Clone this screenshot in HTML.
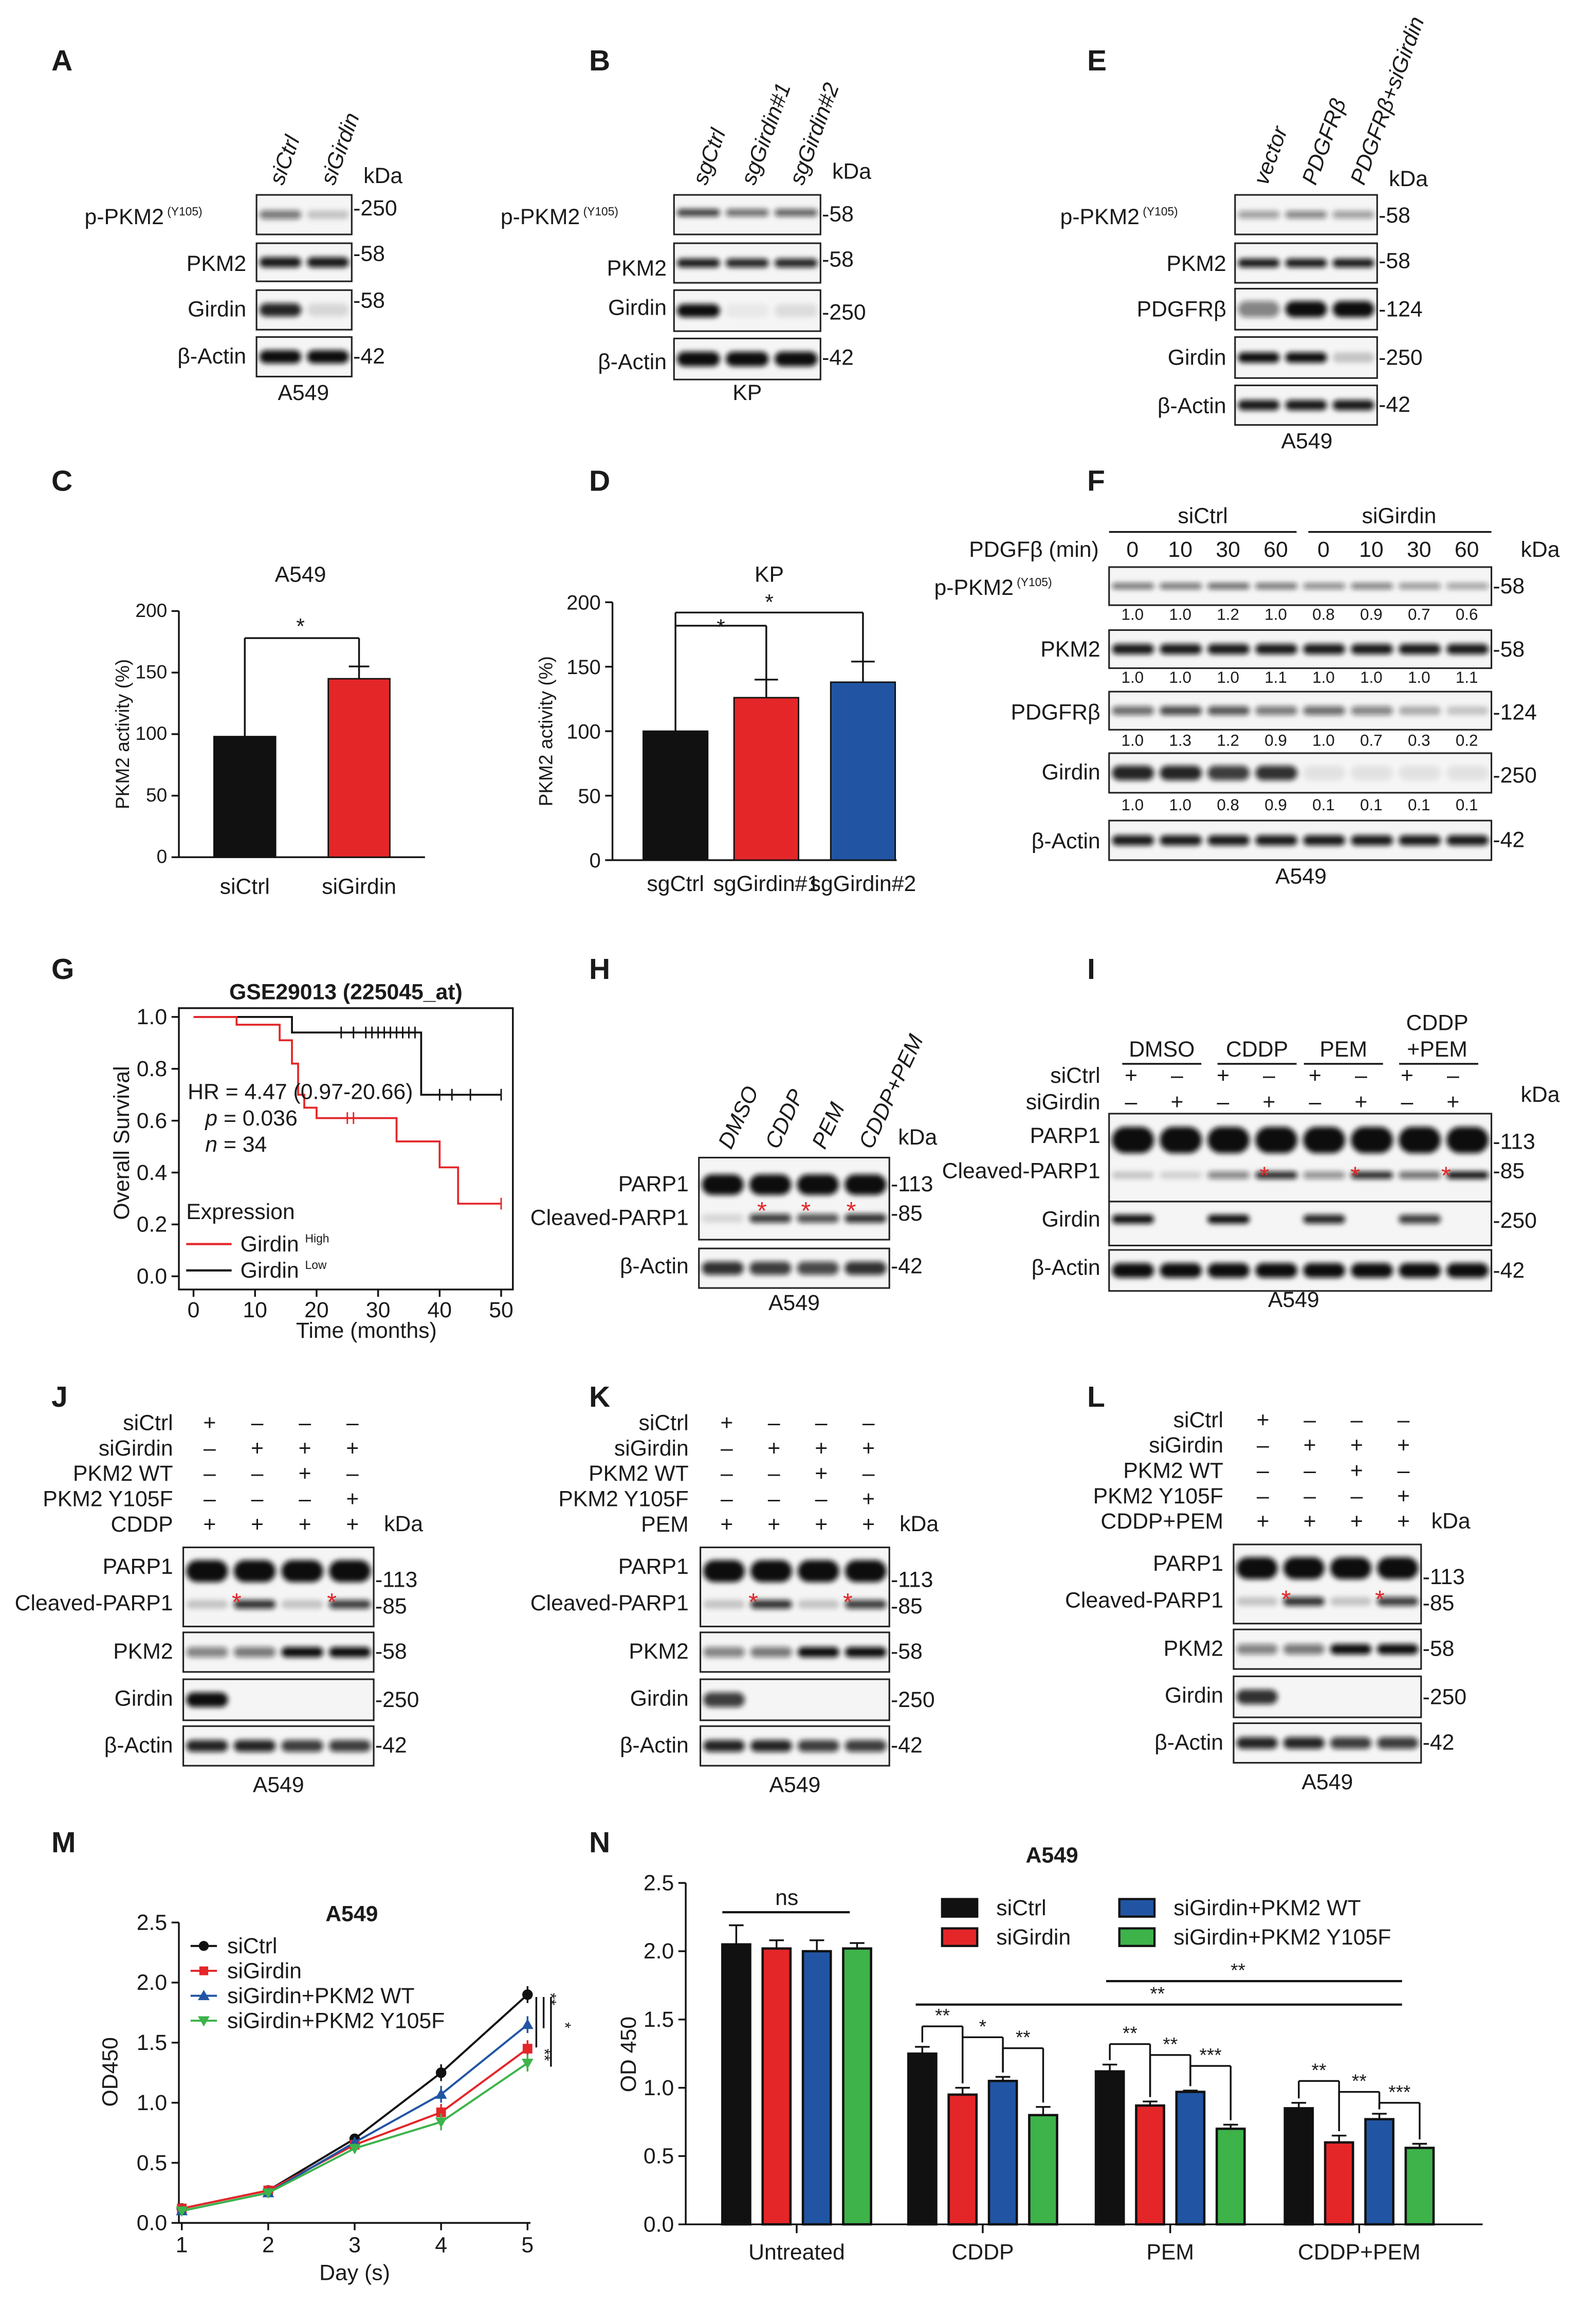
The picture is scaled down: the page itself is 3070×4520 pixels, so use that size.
<!DOCTYPE html>
<html><head><meta charset="utf-8"><style>
html,body{margin:0;padding:0;background:#fff}
svg{display:block}
text{font-family:"Liberation Sans",sans-serif}
</style></head><body>
<svg id="fig" width="3070" height="4520" viewBox="0 0 1077 1586" xmlns="http://www.w3.org/2000/svg">
<defs><filter id="blur" x="-20%" y="-100%" width="140%" height="300%"><feGaussianBlur stdDeviation="1.8"/></filter></defs>
</svg>
<script>
// ---------- chart data ----------
const cCats=["siCtrl","siGirdin"];
const cVals=[98,145];
const cErr=[0,10];
const dCats=["sgCtrl","sgGirdin#1","sgGirdin#2"];
const dVals=[100,126,138];
const dErr=[0,14,16];
const activityTicks=[0,50,100,150,200];
const kmHighSteps=[[0,1],[7,0.97],[14,0.91],[16,0.82],[17,0.70],[18,0.65],[20,0.61],[33,0.52],[40,0.42],[43,0.28],[50,0.28]];
const kmLowSteps=[[0,1],[16,0.94],[37,0.70],[50,0.70]];
const kmLowCensor=[24,26,28,29,30,31,32,33,34,35,36,40,42,45,50];
const kmHighCensor=[25,26,50];
const kmXTicks=[0,10,20,30,40,50];
const kmYTicks=[0,0.2,0.4,0.6,0.8,1.0];
const mDays=[1,2,3,4,5];
const mSiCtrl=[0.12,0.27,0.70,1.25,1.90];
const mSiGirdin=[0.12,0.27,0.65,0.92,1.45];
const mWT=[0.10,0.25,0.67,1.07,1.65];
const mY105F=[0.10,0.25,0.62,0.84,1.33];
const mErr=[0.03,0.03,0.04,0.07,0.07];
const odTicks=[0,0.5,1.0,1.5,2.0,2.5];
const nGroups=["Untreated","CDDP","PEM","CDDP+PEM"];
const nSiCtrl=[2.05,1.25,1.12,0.85];
const nSiGirdin=[2.02,0.95,0.87,0.60];
const nWT=[2.00,1.05,0.97,0.77];
const nY105F=[2.02,0.80,0.70,0.56];
const nErrCtrl=[0.14,0.05,0.05,0.04];
const nErrGir=[0.06,0.05,0.03,0.05];
const nErrWT=[0.08,0.03,0.01,0.04];
const nErrY=[0.04,0.06,0.03,0.03];
const seriesNames=["siCtrl","siGirdin","siGirdin+PKM2 WT","siGirdin+PKM2 Y105F"];

const RED="#e42629",BLUE="#2155a3",GREEN="#3db34a",BLK="#111";
const svg=document.getElementById('fig');
const NS="http://www.w3.org/2000/svg";
function mk(tag,name,attrs,parent){
  const e=document.createElementNS(NS,tag);
  
  
  for(const k in attrs)e.setAttribute(k,attrs[k]);
  (parent||svg).appendChild(e);return e;
}
function T(x,y,s,name,o){o=o||{};
  const e=mk('text',name,{x:x,y:y,'font-size':o.fs||15,'text-anchor':o.a||'start','font-weight':o.b?'bold':'normal',fill:o.fill||'#1a1a1a'},o.p);
  if(o.rot)e.setAttribute('transform','rotate('+o.rot+' '+x+' '+y+')');
  if(o.it)e.setAttribute('font-style','italic');
  e.textContent=s;return e;}
function L(x1,y1,x2,y2,name,o){o=o||{};return mk('line',name,{x1:x1,y1:y1,x2:x2,y2:y2,stroke:o.c||'#111','stroke-width':o.w||1.2},o.p);}
function R(x,y,w,h,name,o){o=o||{};return mk('rect',name,{x:x,y:y,width:w,height:h,fill:o.f||'none',stroke:o.s||'none','stroke-width':o.w||1},o.p);}

// panel letters
[["A",35,48],["B",402,48],["E",742,48],["C",35,335],["D",402,335],["F",742,335],["G",35,668],["H",402,668],["I",742,668],["J",35,960],["K",402,960],["L",742,960],["M",35,1264],["N",402,1264]].forEach(p=>T(p[1],p[2],p[0],'panel-label-'+p[0].toLowerCase(),{fs:20,b:true}));

// ---------- blots ----------
function blot(name,x,y,w,h,bands){
  const g=mk('g',name,{});
  R(x,y,w,h,name+'-bg',{f:'#f5f5f5',p:g});
  bands.forEach(b=>{const n=b[2].length,lw=w/n;
    b[2].forEach((v,i)=>{if(v<=0.02)return;
      mk('rect',name+'-band',{x:x+lw*i+lw*0.06,y:y+h*b[0]-b[1]/2,width:lw*0.88,height:b[1],rx:b[1]/2,fill:'#111','fill-opacity':v,filter:'url(#blur)'},g);});});
  R(x,y,w,h,name+'-frame',{s:'#222',w:1.1,p:g});
  return g;}
function lab(x,y,s,name,sup){const e=T(x,y,s,name,{a:'end'});if(sup){const ts=document.createElementNS(NS,'tspan');ts.setAttribute('font-size','8');ts.setAttribute('dy','-6');ts.textContent=' (Y105)';e.appendChild(ts);}return e;}
function mark(x,y,s){T(x,y,'-'+s,'kda-marker-'+s);}
function star(x,y){T(x,y,'*','cleavage-asterisk',{fill:RED,fs:17,a:'middle'});}

// A
blot('blot-a-ppkm2',175,133,65,27,[[0.5,6,[0.55,0.2]]]);
blot('blot-a-pkm2',175,166,65,26,[[0.5,7,[0.95,0.95]]]);
blot('blot-a-girdin',175,198,65,27,[[0.5,9,[0.9,0.12]]]);
blot('blot-a-actin',175,230,65,27,[[0.5,9,[1,1]]]);
lab(138,153,'p-PKM2','label-ppkm2',true);lab(168,185,'PKM2','label-pkm2');lab(168,216,'Girdin','label-girdin');lab(168,248,'β-Actin','label-actin');
mark(241,147,'250');mark(241,178,'58');mark(241,210,'58');mark(241,248,'42');
T(248,125,'kDa','kda-a');T(207,273,'A549','cell-a549',{a:'middle'});
T(193,127,'siCtrl','lane-sictrl',{rot:-70,it:true});T(228,127,'siGirdin','lane-sigirdin',{rot:-70,it:true});
// B
blot('blot-b-ppkm2',460,133,100,27,[[0.45,5,[0.8,0.6,0.65]]]);
blot('blot-b-pkm2',460,166,100,27,[[0.5,6,[0.95,0.9,0.9]]]);
blot('blot-b-girdin',460,198,100,28,[[0.5,9,[1,0.05,0.1]]]);
blot('blot-b-actin',460,231,100,28,[[0.5,10,[1,1,1]]]);
lab(422,153,'p-PKM2','label-ppkm2',true);lab(455,188,'PKM2','label-pkm2');lab(455,215,'Girdin','label-girdin');lab(455,252,'β-Actin','label-actin');
mark(561,151,'58');mark(561,182,'58');mark(561,218,'250');mark(561,249,'42');
T(568,122,'kDa','kda-b');T(510,273,'KP','cell-kp',{a:'middle'});
['sgCtrl','sgGirdin#1','sgGirdin#2'].forEach((s,i)=>T(482+i*33,127,s,'lane-'+s,{rot:-70,it:true}));
// E
blot('blot-e-ppkm2',843,133,97,27,[[0.5,5,[0.4,0.5,0.4]]]);
blot('blot-e-pkm2',843,166,97,27,[[0.5,6,[0.95,0.95,0.95]]]);
blot('blot-e-pdgfrb',843,197,97,28,[[0.5,11,[0.5,1,1]]]);
blot('blot-e-girdin',843,230,97,28,[[0.5,7,[1,1,0.2]]]);
blot('blot-e-actin',843,263,97,27,[[0.5,7,[0.95,0.95,0.95]]]);
lab(804,153,'p-PKM2','label-ppkm2',true);lab(837,185,'PKM2','label-pkm2');lab(837,216,'PDGFRβ','label-pdgfrb');lab(837,249,'Girdin','label-girdin');lab(837,282,'β-Actin','label-actin');
mark(941,152,'58');mark(941,183,'58');mark(941,216,'124');mark(941,249,'250');mark(941,281,'42');
T(948,127,'kDa','kda-e');T(892,306,'A549','cell-a549',{a:'middle'});
['vector','PDGFRβ','PDGFRβ+siGirdin'].forEach((s,i)=>T(865+i*33,127,s,'lane-'+s,{rot:-70,it:true}));
// F
T(821,357,'siCtrl','group-sictrl',{a:'middle'});L(757,363,885,363,'group-line');
T(955,357,'siGirdin','group-sigirdin',{a:'middle'});L(893,363,1018,363,'group-line');
T(750,380,'PDGFβ (min)','label-pdgfb-min',{a:'end'});
[0,10,30,60,0,10,30,60].forEach((v,i)=>T(773+i*32.6,380,String(v),'time-'+v,{a:'middle'}));
T(1038,380,'kDa','kda-f');
blot('blot-f-ppkm2',757,387,261,26,[[0.5,4,[0.6,0.6,0.65,0.6,0.5,0.55,0.45,0.4]]]);
blot('blot-f-pkm2',757,430,261,26,[[0.5,7,[0.95,0.95,0.95,0.95,0.95,0.95,0.95,0.95]]]);
blot('blot-f-pdgfrb',757,472,261,26,[[0.5,6,[0.6,0.75,0.7,0.55,0.6,0.5,0.3,0.2]]]);
blot('blot-f-girdin',757,514,261,27,[[0.5,10,[0.9,0.9,0.8,0.85,0.08,0.08,0.08,0.08]]]);
blot('blot-f-actin',757,560,261,27,[[0.5,7,[0.95,0.95,0.95,0.95,0.95,0.95,0.95,0.95]]]);
lab(718,406,'p-PKM2','label-ppkm2',true);lab(751,448,'PKM2','label-pkm2');lab(751,491,'PDGFRβ','label-pdgfrb');lab(751,532,'Girdin','label-girdin');lab(751,579,'β-Actin','label-actin');
mark(1019,405,'58');mark(1019,448,'58');mark(1019,491,'124');mark(1019,534,'250');mark(1019,578,'42');
[[423,['1.0','1.0','1.2','1.0','0.8','0.9','0.7','0.6']],[466,['1.0','1.0','1.0','1.1','1.0','1.0','1.0','1.1']],[509,['1.0','1.3','1.2','0.9','1.0','0.7','0.3','0.2']],[553,['1.0','1.0','0.8','0.9','0.1','0.1','0.1','0.1']]].forEach(r=>r[1].forEach((v,i)=>T(773+i*32.6,r[0],v,'quant-value',{a:'middle',fs:11})));
T(888,603,'A549','cell-a549',{a:'middle'});
// H
blot('blot-h-parp1',477,790,130,56,[[0.33,14,[1,1,1,1]],[0.74,6,[0.12,0.8,0.7,0.85]]]);
blot('blot-h-actin',477,852,130,27,[[0.5,9,[0.85,0.8,0.75,0.85]]]);
lab(470,813,'PARP1','label-parp1');lab(470,836,'Cleaved-PARP1','label-cleaved-parp1');lab(470,869,'β-Actin','label-actin');
mark(608,813,'113');mark(608,833,'85');mark(608,869,'42');T(613,781,'kDa','kda-h');T(542,894,'A549','cell-a549',{a:'middle'});
['DMSO','CDDP','PEM','CDDP+PEM'].forEach((s,i)=>T(499+i*32,785,s,'lane-'+s,{rot:-65,it:true}));
[520,550,581].forEach(x=>star(x,832));
// I
[['DMSO',793],['CDDP',858],['PEM',917]].forEach(g=>{T(g[1],721,g[0],'group-'+g[0].toLowerCase(),{a:'middle'});L(g[1]-27,726,g[1]+27,726,'group-line');});
T(981,703,'CDDP','group-cddp-pem',{a:'middle'});T(981,721,'+PEM','group-cddp-pem',{a:'middle'});L(955,726,1009,726,'group-line');
T(751,739,'siCtrl','row-sictrl',{a:'end'});T(751,757,'siGirdin','row-sigirdin',{a:'end'});
for(let i=0;i<8;i++){T(772+i*31.4,739,i%2?'–':'+','sign',{a:'middle'});T(772+i*31.4,757,i%2?'+':'–','sign',{a:'middle'});}
T(1038,752,'kDa','kda-i');
blot('blot-i-parp1',757,760,261,60,[[0.3,18,[1,1,1,1,1,1,1,1]],[0.7,5,[0.2,0.15,0.5,0.9,0.45,0.9,0.6,1]]]);
blot('blot-i-girdin',757,820,261,30,[[0.4,6,[1,0,1,0,0.9,0,0.8,0]]]);
blot('blot-i-actin',757,853,261,28,[[0.5,10,[1,1,1,1,1,1,1,1]]]);
lab(751,780,'PARP1','label-parp1');lab(751,804,'Cleaved-PARP1','label-cleaved-parp1');lab(751,837,'Girdin','label-girdin');lab(751,870,'β-Actin','label-actin');
mark(1019,784,'113');mark(1019,804,'85');mark(1019,838,'250');mark(1019,872,'42');T(883,892,'A549','cell-a549',{a:'middle'});
[863,925,987].forEach(x=>star(x,808));
// J K L
function rescue(pref,x,w,lx,sx,y0,drug,girdin){
  const rows=[['siCtrl',['+','–','–','–']],['siGirdin',['–','+','+','+']],['PKM2 WT',['–','–','+','–']],['PKM2 Y105F',['–','–','–','+']],[drug,['+','+','+','+']]];
  rows.forEach((r,j)=>{T(lx,y0+j*17.3,r[0],'row-'+r[0].toLowerCase().replace(/[^a-z0-9]+/g,'-'),{a:'end'});r[1].forEach((s,i)=>T(sx+i*w/4,y0+j*17.3,s,'sign',{a:'middle'}));});
  T(x+w+7,y0+69,'kDa','kda-'+pref);
  const by=y0+80;
  blot('blot-'+pref+'-parp1',x,by,w,54,[[0.3,15,[1,1,1,1]],[0.72,6,[0.2,0.85,0.2,0.8]]]);
  blot('blot-'+pref+'-pkm2',x,by+58,w,27,[[0.5,7,[0.5,0.55,1,1]]]);
  blot('blot-'+pref+'-girdin',x,by+90,w,28,[[0.5,10,[girdin,0,0,0]]]);
  blot('blot-'+pref+'-actin',x,by+122,w,27,[[0.5,8,[0.9,0.9,0.8,0.8]]]);
  lab(lx,by+18,'PARP1','label-parp1');lab(lx,by+43,'Cleaved-PARP1','label-cleaved-parp1');lab(lx,by+76,'PKM2','label-pkm2');lab(lx,by+108,'Girdin','label-girdin');lab(lx,by+140,'β-Actin','label-actin');
  mark(x+w+1,by+27,'113');mark(x+w+1,by+45,'85');mark(x+w+1,by+76,'58');mark(x+w+1,by+109,'250');mark(x+w+1,by+140,'42');
  T(x+w/2,by+167,'A549','cell-a549',{a:'middle'});
  [x+w*0.28,x+w*0.78].forEach(ax=>star(ax,by+43));
}
rescue('j',125,130,118,143,976,'CDDP',1);
rescue('k',478,129,470,496,976,'PEM',0.8);
rescue('l',842,128,835,862,974,'CDDP+PEM',0.85);

// ---------- C ----------
(function(){const x0=122,y0=585,yt=417,xs=[167,245],bw=42;
 const y=v=>y0-(v/200)*(y0-yt);
 L(x0,yt,x0,y0,'c-y-axis');L(x0,y0,290,y0,'c-x-axis');
 activityTicks.forEach(t=>{L(x0-5,y(t),x0,y(t),'c-y-tick');T(x0-8,y(t)+4,String(t),'c-y-tick-label',{a:'end',fs:13});});
 cVals.forEach((v,i)=>{R(xs[i]-bw/2,y(v),bw,y0-y(v),'c-bar-'+cCats[i],{f:i?RED:BLK,s:'#111'});
   if(cErr[i]){L(xs[i],y(v),xs[i],y(v+cErr[i]),'c-error-bar');L(xs[i]-7,y(v+cErr[i]),xs[i]+7,y(v+cErr[i]),'c-error-cap');}
   T(xs[i],610,cCats[i],'c-x-label-'+cCats[i],{a:'middle'});});
 const by=y(178);L(xs[0],y(cVals[0]),xs[0],by,'c-sig-bracket');L(xs[0],by,xs[1],by,'c-sig-bracket');L(xs[1],by,xs[1],y(cVals[1]+cErr[1]),'c-sig-bracket');
 T(205,by-3,'*','c-sig-star',{a:'middle'});
 T(205,397,'A549','c-title',{a:'middle'});T(88,501,'PKM2 activity (%)','c-y-title',{a:'middle',rot:-90,fs:13});
})();
// ---------- D ----------
(function(){const x0=418,y0=587,yt=411,xs=[461,523,589],bw=44;
 const y=v=>y0-(v/200)*(y0-yt);
 L(x0,yt,x0,y0,'d-y-axis');L(x0,y0,612,y0,'d-x-axis');
 activityTicks.forEach(t=>{L(x0-5,y(t),x0,y(t),'d-y-tick');T(x0-8,y(t)+5,String(t),'d-y-tick-label',{a:'end',fs:14});});
 const cols=[BLK,RED,BLUE];
 dVals.forEach((v,i)=>{R(xs[i]-bw/2,y(v),bw,y0-y(v),'d-bar-'+dCats[i],{f:cols[i],s:'#111'});
   if(dErr[i]){L(xs[i],y(v),xs[i],y(v+dErr[i]),'d-error-bar');L(xs[i]-8,y(v+dErr[i]),xs[i]+8,y(v+dErr[i]),'d-error-cap');}
   T(xs[i],608,dCats[i],'d-x-label-'+dCats[i],{a:'middle'});});
 L(xs[0],y(dVals[0]),xs[0],418,'d-sig-bracket');
 L(xs[0],427,xs[1],427,'d-sig-bracket');L(xs[1],427,xs[1],y(dVals[1]+dErr[1]),'d-sig-bracket');T(492,433,'*','d-sig-star',{a:'middle'});
 L(xs[0],418,xs[2],418,'d-sig-bracket');L(xs[2],418,xs[2],y(dVals[2]+dErr[2]),'d-sig-bracket');T(525,416,'*','d-sig-star',{a:'middle'});
 T(525,397,'KP','d-title',{a:'middle'});T(377,499,'PKM2 activity (%)','d-y-title',{a:'middle',rot:-90,fs:13});
})();
// ---------- G (KM) ----------
(function(){const xl=122,xr=350,yt=688,yb=880;
 const x=t=>132+t*4.2,y=s=>871-s*177;
 R(xl,yt,xr-xl,yb-yt,'km-frame',{s:'#111',w:1.2});
 T(236,682,'GSE29013 (225045_at)','km-title',{a:'middle',b:true});
 kmYTicks.forEach(v=>{L(xl-5,y(v),xl,y(v),'km-y-tick');T(xl-8,y(v)+5,v.toFixed(1),'km-y-tick-label',{a:'end'});});
 kmXTicks.forEach(v=>{L(x(v),yb,x(v),yb+5,'km-x-tick');T(x(v),yb+19,String(v),'km-x-tick-label',{a:'middle'});});
 function path(st){let d='M'+x(st[0][0])+','+y(st[0][1]);for(let i=1;i<st.length;i++){d+=' H'+x(st[i][0])+' V'+y(st[i][1]);}return d;}
 mk('path','km-curve-girdin-low',{d:path(kmLowSteps),fill:'none',stroke:BLK,'stroke-width':1.3});
 mk('path','km-curve-girdin-high',{d:path(kmHighSteps),fill:'none',stroke:RED,'stroke-width':1.3});
 function surv(st,t){let s=1;st.forEach(p=>{if(p[0]<=t)s=p[1];});return s;}
 kmLowCensor.forEach(t=>L(x(t),y(surv(kmLowSteps,t))-4,x(t),y(surv(kmLowSteps,t))+4,'km-censor-low',{c:BLK,w:1}));
 kmHighCensor.forEach(t=>L(x(t),y(surv(kmHighSteps,t))-4,x(t),y(surv(kmHighSteps,t))+4,'km-censor-high',{c:RED,w:1}));
 T(128,750,'HR = 4.47 (0.97-20.66)','km-hr');
 const p=T(140,768,'','km-p');p.innerHTML='<tspan font-style="italic">p</tspan> = 0.036';
 const n=T(140,786,'','km-n');n.innerHTML='<tspan font-style="italic">n</tspan> = 34';
 T(127,832,'Expression','km-legend-title');
 L(127,849,158,849,'km-legend-high-line',{c:RED,w:1.5});const a=T(164,854,'Girdin','km-legend-high');a.innerHTML='Girdin <tspan font-size="8" dy="-6">High</tspan>';
 L(127,867,158,867,'km-legend-low-line',{c:BLK,w:1.5});const b=T(164,872,'Girdin','km-legend-low');b.innerHTML='Girdin <tspan font-size="8" dy="-6">Low</tspan>';
 T(250,913,'Time (months)','km-x-title',{a:'middle'});T(88,780,'Overall Survival','km-y-title',{a:'middle',rot:-90});
})();
// ---------- M ----------
(function(){const x0=122,y0=1517,yt=1312;
 const x=d=>124+(d-1)*59,y=v=>y0-(v/2.5)*(y0-yt);
 L(x0,yt,x0,y0,'m-y-axis');L(x0,y0,362,y0,'m-x-axis');
 odTicks.forEach(t=>{L(x0-5,y(t),x0,y(t),'m-y-tick');T(x0-8,y(t)+5,t.toFixed(1),'m-y-tick-label',{a:'end'});});
 mDays.forEach(d=>{L(x(d),y0,x(d),y0+5,'m-x-tick');T(x(d),y0+20,String(d),'m-x-tick-label',{a:'middle'});});
 const ser=[[mSiCtrl,BLK,'circle'],[mSiGirdin,RED,'square'],[mWT,BLUE,'triup'],[mY105F,GREEN,'tridown']];
 ser.forEach((s,k)=>{const nm='m-series-'+seriesNames[k].toLowerCase().replace(/[^a-z0-9]+/g,'-');
  mk('polyline',nm+'-line',{points:s[0].map((v,i)=>x(mDays[i])+','+y(v)).join(' '),fill:'none',stroke:s[1],'stroke-width':1.4});
  s[0].forEach((v,i)=>{const cx=x(mDays[i]),cy=y(v);
   L(cx,y(v-mErr[i]),cx,y(v+mErr[i]),nm+'-error',{c:s[1]});
   if(s[2]=='circle')mk('circle',nm+'-point',{cx:cx,cy:cy,r:3.6,fill:s[1]});
   else if(s[2]=='square')mk('rect',nm+'-point',{x:cx-3.3,y:cy-3.3,width:6.6,height:6.6,fill:s[1]});
   else if(s[2]=='triup')mk('polygon',nm+'-point',{points:(cx-4)+','+(cy+3)+' '+(cx+4)+','+(cy+3)+' '+cx+','+(cy-4),fill:s[1]});
   else mk('polygon',nm+'-point',{points:(cx-4)+','+(cy-3)+' '+(cx+4)+','+(cy-3)+' '+cx+','+(cy+4),fill:s[1]});});
  const ly=1328+k*17;L(130,ly,148,ly,nm+'-legend-line',{c:s[1],w:1.4});
  if(s[2]=='circle')mk('circle',nm+'-legend-marker',{cx:139,cy:ly,r:3.4,fill:s[1]});else if(s[2]=='square')mk('rect',nm+'-legend-marker',{x:136,y:ly-3,width:6,height:6,fill:s[1]});else mk('polygon',nm+'-legend-marker',{points:s[2]=='triup'?'135,'+(ly+3)+' 143,'+(ly+3)+' 139,'+(ly-4):'135,'+(ly-3)+' 143,'+(ly-3)+' 139,'+(ly+4),fill:s[1]});
  T(155,ly+5,seriesNames[k],nm+'-legend-label');});
 T(240,1311,'A549','m-title',{a:'middle',b:true});
 T(242,1556,'Day (s)','m-x-title',{a:'middle'});T(80,1414,'OD450','m-y-title',{a:'middle',rot:-90});
 L(366,y(1.88),366,y(1.46),'m-sig-line');L(371,y(1.88),371,y(1.62),'m-sig-line');L(376,y(1.88),376,y(1.3),'m-sig-line');
 T(372,1360,'**','m-sig-star',{fs:11,rot:90});T(382,1380,'*','m-sig-star',{fs:11,rot:90});T(368,1398,'**','m-sig-star',{fs:11,rot:90});
})();
// ---------- N ----------
(function(){const x0=468,y0=1518,yt=1285,starts=[493,620,748,877],bw=19,gap=27.5;
 const y=v=>y0-(v/2.5)*(y0-yt);
 L(x0,yt,x0,y0,'n-y-axis');L(x0,y0,1012,y0,'n-x-axis');
 odTicks.forEach(t=>{L(x0-5,y(t),x0,y(t),'n-y-tick');T(x0-8,y(t)+5,t.toFixed(1),'n-y-tick-label',{a:'end'});});
 const ser=[[nSiCtrl,nErrCtrl,BLK],[nSiGirdin,nErrGir,RED],[nWT,nErrWT,BLUE],[nY105F,nErrY,GREEN]];
 nGroups.forEach((g,gi)=>{const cxg=starts[gi]+bw/2+gap*1.5;
  L(cxg,y0,cxg,y0+6,'n-x-tick');T(cxg,1542,g,'n-x-label-'+g.toLowerCase(),{a:'middle'});
  ser.forEach((s,k)=>{const bx=starts[gi]+k*gap,v=s[0][gi],e=s[1][gi];
   R(bx,y(v),bw,y0-y(v),'n-bar-'+g.toLowerCase()+'-'+k,{f:s[2],s:'#111',w:1.6});
   L(bx+bw/2,y(v),bx+bw/2,y(v+e),'n-error-bar');L(bx+bw/2-5,y(v+e),bx+bw/2+5,y(v+e),'n-error-cap');});
  if(gi>0){const tops=ser.map((s,k)=>[starts[gi]+k*gap+bw/2,y(s[0][gi]+s[1][gi])-3]);
   const stars=gi==1?['**','*','**']:['**','**','***'];
   for(let k=0;k<3;k++){
     const by=y(ser[0][0][gi]+0.2-k*0.08);
     L(tops[k][0],tops[k][1],tops[k][0],by,'n-sig-bracket');L(tops[k][0],by,tops[k+1][0],by,'n-sig-bracket');L(tops[k+1][0],by,tops[k+1][0],tops[k+1][1],'n-sig-bracket');
     T((tops[k][0]+tops[k+1][0])/2,by-3,stars[k],'n-sig-star',{a:'middle',fs:13});}}
 });
 L(493,1305,580,1305,'n-ns-line',{w:1.5});T(537,1300,'ns','n-ns-label',{a:'middle'});
 L(625,1368,957,1368,'n-sig-line',{w:1.5});T(790,1365,'**','n-sig-star',{a:'middle',fs:13});
 L(755,1352,957,1352,'n-sig-line',{w:1.5});T(845,1349,'**','n-sig-star',{a:'middle',fs:13});
 [[643,1302,BLK,0],[643,1322,RED,1],[764,1302,BLUE,2],[764,1322,GREEN,3]].forEach(l=>{R(l[0],l[1]-6,24,12,'n-legend-swatch-'+l[3],{f:l[2],s:'#111',w:1.5});T(l[0]+37,l[1]+5,seriesNames[l[3]],'n-legend-label-'+l[3]);});
 T(718,1271,'A549','n-title',{a:'middle',b:true});T(434,1402,'OD 450','n-y-title',{a:'middle',rot:-90});
})();
</script>
</body></html>
